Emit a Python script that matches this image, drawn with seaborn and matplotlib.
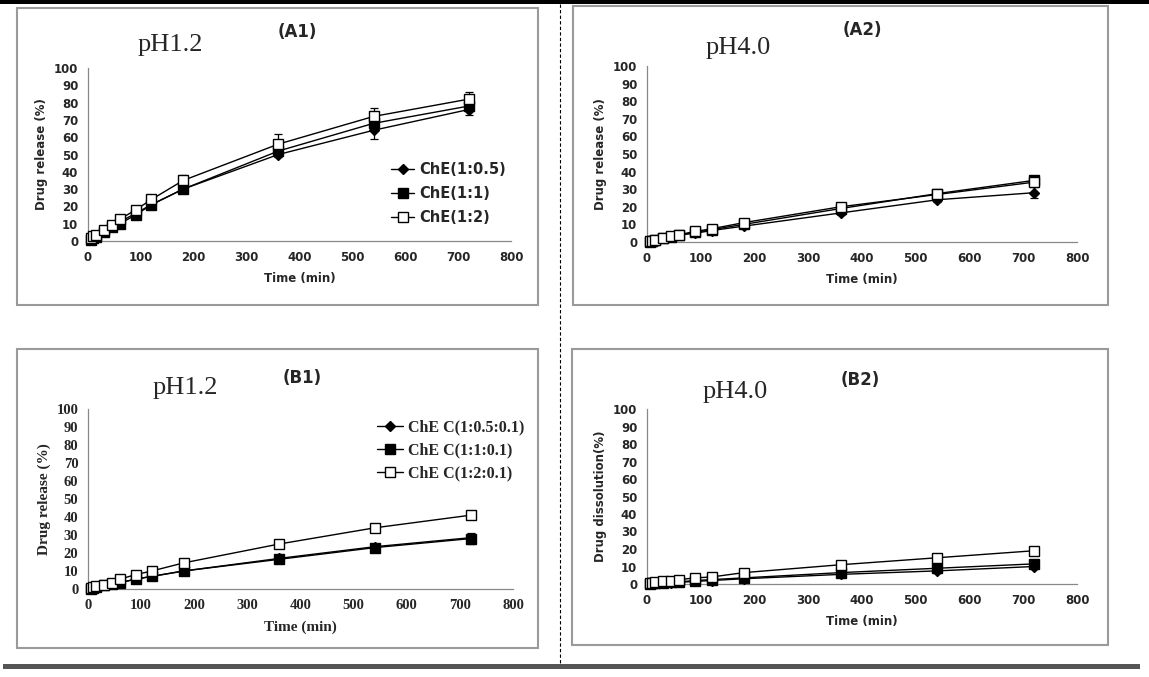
import matplotlib
matplotlib.use('Agg')
import matplotlib.pyplot as plt
import seaborn as sns
from matplotlib.patches import Rectangle
from matplotlib.lines import Line2D

sns.set_style('white')
plt.rcParams['font.family'] = ['DejaVu Sans']

W, H = 1149, 677

# Czas pobierania probek (min)
time = [5, 10, 15, 30, 45, 60, 90, 120, 180, 360, 540, 720]

# (A1) pH 1.2, ChE
a1_labels = ['ChE(1:0.5)', 'ChE(1:1)', 'ChE(1:2)']
a1_05 = [0.5, 1.5, 2.5, 5, 8, 11, 16, 21, 30, 50, 64, 76]
a1_1 = [0.5, 1.5, 2.5, 5, 8, 10, 15, 21, 30, 52, 68, 78]
a1_2 = [1.5, 3, 3.5, 6.5, 9.5, 12.5, 18, 24, 35, 56, 72, 82]
a1_err_05 = [0.5, 0.5, 0.5, 1, 1, 1, 1, 1, 1.5, 1.5, 5, 3]
a1_err_1 = [0.5, 0.5, 0.5, 1, 1, 1, 1, 1, 1.5, 2, 2, 2]
a1_err_2 = [0.5, 0.5, 0.5, 1, 1, 1, 1.5, 1.5, 3, 6, 5, 4]

# (A2) pH 4.0, ChE
a2_05 = [0, 0.5, 1, 2, 3, 4, 5, 6.5, 9, 16.5, 24, 28]
a2_1 = [0, 0.5, 1, 2, 3, 4, 5.5, 7, 10, 19, 27.5, 35]
a2_2 = [0.3, 0.7, 1.2, 2.2, 3.2, 4.2, 6, 7.5, 11, 20, 27, 34]
a2_err_05 = [0.3, 0.3, 0.3, 0.5, 0.5, 0.5, 0.5, 1, 1, 1, 1, 3]
a2_err_1 = [0.3, 0.3, 0.3, 0.5, 0.5, 0.5, 0.5, 1, 1, 1, 1, 1.5]
a2_err_2 = [0.3, 0.3, 0.3, 0.5, 0.5, 0.5, 0.5, 1, 1, 1, 1, 1.5]

# (B1) pH 1.2, ChEC
b1_labels = ['ChE C(1:0.5:0.1)', 'ChE C(1:1:0.1)', 'ChE C(1:2:0.1)']
b1_05 = [0, 0.5, 1, 2, 3, 3.5, 5.5, 7, 10, 17, 23.5, 28.5]
b1_1 = [0, 0.5, 1, 2, 3, 3.5, 5.5, 7, 10, 16.5, 23, 28]
b1_2 = [0.5, 1, 1.5, 2.5, 3.5, 5.5, 8, 10, 14.5, 25, 34, 41]
b1_err_05 = [0.3, 0.3, 0.3, 0.5, 0.5, 0.5, 0.5, 0.5, 1, 1, 1, 2]
b1_err_1 = [0.3, 0.3, 0.3, 0.5, 0.5, 0.5, 0.5, 0.5, 1, 1, 2, 3]
b1_err_2 = [0.3, 0.3, 0.3, 0.5, 0.5, 1, 1, 1, 1.5, 1.5, 1.5, 1.5]

# (B2) pH 4.0, ChEC
b2_05 = [0, 0.2, 0.4, 0.6, 0.8, 1, 1.5, 2, 3, 5.5, 7.5, 10]
b2_1 = [0, 0.3, 0.5, 0.8, 1, 1.2, 2, 2.5, 3.5, 6.5, 9, 11.5]
b2_2 = [0.3, 0.6, 1, 1.5, 2, 2.5, 3.5, 4, 6.5, 11, 15, 19]
b2_err_05 = [0.3, 0.3, 0.3, 0.3, 0.3, 0.5, 0.5, 0.5, 0.5, 1, 1, 1]
b2_err_1 = [0.3, 0.3, 0.3, 0.3, 0.3, 0.5, 0.5, 0.5, 0.5, 1, 1, 1]
b2_err_2 = [0.3, 0.3, 0.3, 0.3, 0.3, 0.5, 0.5, 0.5, 1, 1, 1.5, 1.5]


def fig_rect(l, t, r, b):
    # piksele -> wspolrzedne figury
    return [l / W, 1 - b / H, (r - l) / W, (b - t) / H]


fig = plt.figure(figsize=(W / 100, H / 100), dpi=100)

# ramki wokol paneli
for (l, t, r, b) in [(17, 8, 538, 305), (573, 6, 1108, 305),
                     (17, 349, 538, 648), (572, 349, 1108, 645)]:
    fig.add_artist(Rectangle((l / W, 1 - b / H), (r - l) / W, (b - t) / H,
                             transform=fig.transFigure, fill=False,
                             edgecolor='#9a9a9a', linewidth=1.5))

# linie oddzielajace
fig.add_artist(Rectangle((0, 1 - 4 / H), 1, 4 / H, transform=fig.transFigure,
                         color='black', linewidth=0))
fig.add_artist(Rectangle((3 / W, 1 - 669 / H), 1137 / W, 5 / H,
                         transform=fig.transFigure, color='#555555', linewidth=0))
fig.add_artist(Line2D([560 / W, 560 / W], [1 - 4 / H, 1 - 664 / H],
                      transform=fig.transFigure, color='black',
                      linewidth=0.8, linestyle=(0, (3, 2))))

panels = [
    dict(pos=(88, 68, 511, 241), series=[a1_05, a1_1, a1_2],
         errs=[a1_err_05, a1_err_1, a1_err_2], labels=a1_labels,
         title='(A1)', title_xy=(297, 32), ph='pH1.2', ph_xy=(170, 45),
         ylabel='Drug release (%)', legend=(378, 149), serif=False),
    dict(pos=(647, 66, 1077, 242), series=[a2_05, a2_1, a2_2],
         errs=[a2_err_05, a2_err_1, a2_err_2], labels=a1_labels,
         title='(A2)', title_xy=(862, 30), ph='pH4.0', ph_xy=(738, 48),
         ylabel='Drug release (%)', legend=None, serif=False),
    dict(pos=(88, 409, 513, 589), series=[b1_05, b1_1, b1_2],
         errs=[b1_err_05, b1_err_1, b1_err_2], labels=b1_labels,
         title='(B1)', title_xy=(302, 378), ph='pH1.2', ph_xy=(185, 388),
         ylabel='Drug release (%)', legend=(363, 405), serif=True),
    dict(pos=(647, 409, 1077, 584), series=[b2_05, b2_1, b2_2],
         errs=[b2_err_05, b2_err_1, b2_err_2], labels=b1_labels,
         title='(B2)', title_xy=(860, 380), ph='pH4.0', ph_xy=(735, 392),
         ylabel='Drug dissolution(%)', legend=None, serif=False),
]

marker_styles = [
    dict(marker='D', markersize=5, markerfacecolor='black'),
    dict(marker='s', markersize=6.5, markerfacecolor='black'),
    dict(marker='s', markersize=6.5, markerfacecolor='white'),
]

for p in panels:
    ax = fig.add_axes(fig_rect(*p['pos']))
    fam = ['Liberation Serif'] if p['serif'] else ['DejaVu Sans']
    for vals, err, lab, ms in zip(p['series'], p['errs'], p['labels'], marker_styles):
        ax.errorbar(time, vals, yerr=err, fmt='none', ecolor='black',
                    elinewidth=0.9, capsize=3, capthick=0.9, zorder=2,
                    clip_on=False)
        sns.lineplot(x=time, y=vals, ax=ax, color='black', linewidth=1,
                     markeredgecolor='black', markeredgewidth=1, label=lab,
                     zorder=3, clip_on=False, **ms)
    ax.set_xlim(0, 800)
    ax.set_ylim(0, 100)
    ax.set_xticks(range(0, 801, 100))
    ax.set_yticks(range(0, 101, 10))
    for s in ['top', 'right']:
        ax.spines[s].set_visible(False)
    for s in ['left', 'bottom']:
        ax.spines[s].set_color('#888888')
        ax.spines[s].set_linewidth(0.9)
        ax.spines[s].set_zorder(1)
    ax.tick_params(axis='both', direction='out', length=4, width=0.9,
                   color='#888888', labelsize=8.5, pad=3)
    for t in ax.get_xticklabels() + ax.get_yticklabels():
        t.set_family(fam)
        t.set_fontweight('bold')
        if p['serif']:
            t.set_fontsize(10.5)
    ax.set_xlabel('Time (min)', fontsize=8.5 if not p['serif'] else 11,
                  fontweight='bold', family=fam, labelpad=6)
    ax.set_ylabel(p['ylabel'], fontsize=8.5 if not p['serif'] else 11,
                  fontweight='bold', family=fam, labelpad=4)
    ax.set_facecolor('none')

    if p['legend'] is not None:
        lx, ly = p['legend']
        ax.legend(loc='upper left', bbox_to_anchor=(lx / W, 1 - ly / H),
                  bbox_transform=fig.transFigure, frameon=False,
                  handlelength=1.6, handletextpad=0.3,
                  labelspacing=0.62 if not p['serif'] else 0.45,
                  prop=dict(family=fam, weight='bold',
                            size=11.5 if p['serif'] else 10.5))
    else:
        ax.get_legend().remove()

    fig.text(p['title_xy'][0] / W, 1 - p['title_xy'][1] / H, p['title'],
             ha='center', va='center', fontsize=12, fontweight='bold')
    fig.text(p['ph_xy'][0] / W, 1 - p['ph_xy'][1] / H, p['ph'],
             ha='center', va='center', fontsize=19, family='Liberation Serif')

fig.savefig('out.png', dpi=100)
